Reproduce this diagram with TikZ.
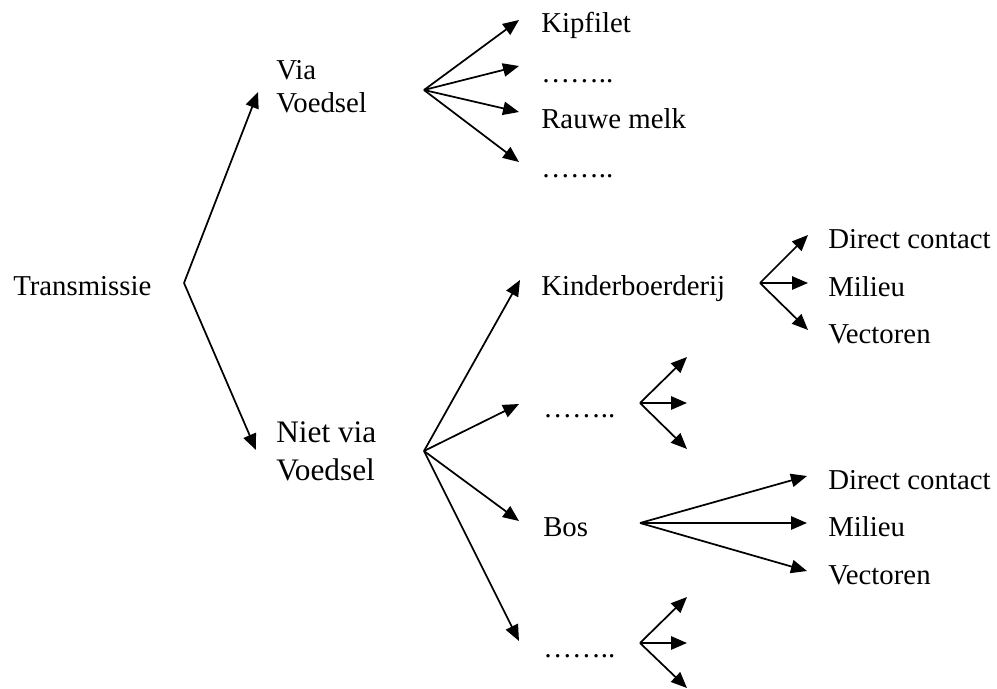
\documentclass[tikz,border=0pt]{standalone}
\usepackage{fontspec}
\setmainfont{Liberation Serif}
\usetikzlibrary{arrows.meta}

\begin{document}
\begin{tikzpicture}
  [x=0.75pt,y=-0.75pt,
   every node/.style={inner sep=0pt,anchor=base west,font=\fontsize{21.6}{24.75}\selectfont},
   groot/.style={font=\fontsize{23.5}{28.5}\selectfont},
   pijl/.style={line width=1.3pt,-{Triangle[length=12pt,width=10pt]}}]
  \useasboundingbox (0,0) rectangle (997,689);

  \node (tr) at (13,295) {Transmissie};
  \node[anchor=north west,align=left] (via) at (276,60) {Via\\Voedsel};
  \node[anchor=north west,align=left,groot] (niet) at (276,421) {Niet via\\Voedsel};

  \node (kip) at (541,32) {Kipfilet};
  \node (dots1) at (541,82) {……..};
  \node (rauw) at (541,128) {Rauwe melk};
  \node (dots2) at (541,177) {……..};

  \node (kind) at (541,295) {Kinderboerderij};
  \node (dots3) at (543,417) {……..};
  \node (bos) at (543,536) {Bos};
  \node (dots4) at (543,657) {……..};

  \node (dc1) at (828,248) {Direct contact};
  \node (mil1) at (828,296) {Milieu};
  \node (vec1) at (828,343) {Vectoren};
  \node (dc2) at (828,489) {Direct contact};
  \node (mil2) at (828,536) {Milieu};
  \node (vec2) at (828,584) {Vectoren};

  \coordinate (j0) at (184,283);
  \coordinate (jv) at (424,90);
  \coordinate (jn) at (424,451);
  \coordinate (jk) at (760,283);
  \coordinate (jd3) at (640,403);
  \coordinate (jb) at (640,523);
  \coordinate (jd4) at (640,643);

  \coordinate (e-via) at (258,92);
  \coordinate (e-niet) at (256,450);
  \coordinate (e-kip) at (519,20);
  \coordinate (e-dots1) at (519,66);
  \coordinate (e-rauw) at (519,112);
  \coordinate (e-dots2) at (519,162);
  \coordinate (e-kind) at (520,280);
  \coordinate (e-dots3) at (519,404);
  \coordinate (e-bos) at (519,521);
  \coordinate (e-dots4) at (519,641);
  \coordinate (e-dc1) at (808,235);
  \coordinate (e-mil1) at (808,283);
  \coordinate (e-vec1) at (808,330);
  \coordinate (e-a3) at (687,357);
  \coordinate (e-b3) at (687,403);
  \coordinate (e-c3) at (687,449);
  \coordinate (e-dc2) at (807,476);
  \coordinate (e-mil2) at (807,523);
  \coordinate (e-vec2) at (807,571);
  \coordinate (e-a4) at (687,597);
  \coordinate (e-b4) at (687,643);
  \coordinate (e-c4) at (687,688);

  \draw[pijl] (j0) -- (e-via);
  \draw[pijl] (j0) -- (e-niet);

  \draw[pijl] (jv) -- (e-kip);
  \draw[pijl] (jv) -- (e-dots1);
  \draw[pijl] (jv) -- (e-rauw);
  \draw[pijl] (jv) -- (e-dots2);

  \draw[pijl] (jn) -- (e-kind);
  \draw[pijl] (jn) -- (e-dots3);
  \draw[pijl] (jn) -- (e-bos);
  \draw[pijl] (jn) -- (e-dots4);

  \draw[pijl] (jk) -- (e-dc1);
  \draw[pijl] (jk) -- (e-mil1);
  \draw[pijl] (jk) -- (e-vec1);

  \draw[pijl] (jd3) -- (e-a3);
  \draw[pijl] (jd3) -- (e-b3);
  \draw[pijl] (jd3) -- (e-c3);

  \draw[pijl] (jb) -- (e-dc2);
  \draw[pijl] (jb) -- (e-mil2);
  \draw[pijl] (jb) -- (e-vec2);

  \draw[pijl] (jd4) -- (e-a4);
  \draw[pijl] (jd4) -- (e-b4);
  \draw[pijl] (jd4) -- (e-c4);
\end{tikzpicture}
\end{document}
